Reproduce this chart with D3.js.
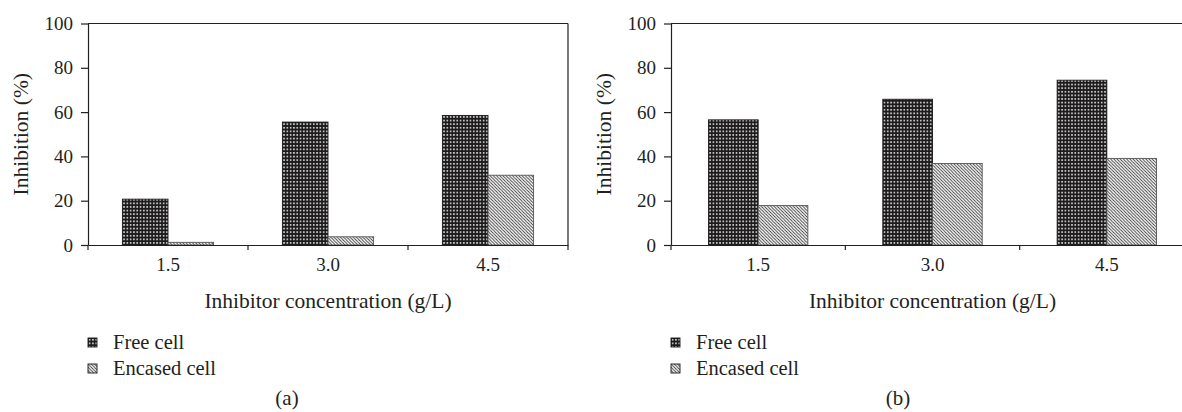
<!DOCTYPE html>
<html>
<head>
<meta charset="utf-8">
<script src="https://cdn.jsdelivr.net/npm/d3@7"></script>
<style>
  body { margin: 0; background: #fff; }
  svg text { font-family: "Liberation Serif", "Times New Roman", serif !important; fill: #231f20; }
  .axis path, .axis line { stroke: #231f20; stroke-width: 1.2; }
</style>
</head>
<body>
<script>
var categories = ["1.5", "3.0", "4.5"];
var seriesNames = ["Free cell", "Encased cell"];
var freeA = [20.7, 55.5, 58.5];
var encasedA = [1.2, 3.7, 31.5];
var freeB = [56.5, 65.8, 74.4];
var encasedB = [17.8, 36.8, 39.1];
var yTicks = [0, 20, 40, 60, 80, 100];

var width = 1182,
    height = 412;

var svg = d3.select("body").append("svg")
    .attr("width", width)
    .attr("height", height);

// fill patterns
var defs = svg.append("defs");

var dots = defs.append("pattern")
    .attr("id", "dots")
    .attr("patternUnits", "userSpaceOnUse")
    .attr("width", 3.3)
    .attr("height", 3.6);
dots.append("rect").attr("width", 3.3).attr("height", 3.6).attr("fill", "#1c1a1b");
dots.append("rect").attr("x", 0.8).attr("y", 1.1).attr("width", 1.7).attr("height", 1.3).attr("fill", "#fff");

var hatch = defs.append("pattern")
    .attr("id", "hatch")
    .attr("patternUnits", "userSpaceOnUse")
    .attr("width", 3.2)
    .attr("height", 3.2);
hatch.append("rect").attr("width", 3.2).attr("height", 3.2).attr("fill", "#fff");
hatch.append("path")
    .attr("d", "M-1,-1L4.2,4.2M-1,2.2L1,4.2M2.2,-1L4.2,1")
    .attr("stroke", "#2e2e2e")
    .attr("stroke-width", 0.85);

var fills = ["url(#dots)", "url(#hatch)"];

function drawPanel(opts) {
  var g = svg.append("g");

  var x = d3.scaleBand()
      .domain(categories)
      .range([opts.left, opts.right]);

  var groupW = x.bandwidth() * 0.57;

  var x1 = d3.scaleBand()
      .domain(seriesNames)
      .range([0, groupW]);

  var y = d3.scaleLinear()
      .domain([0, 100])
      .range([245, 23.5]);

  // frame: top and right lines
  g.append("line")
      .attr("x1", opts.left).attr("x2", opts.right)
      .attr("y1", y(100)).attr("y2", y(100))
      .attr("stroke", "#231f20").attr("stroke-width", 1.2);
  g.append("line")
      .attr("x1", opts.right).attr("x2", opts.right)
      .attr("y1", y(100)).attr("y2", y(0))
      .attr("stroke", "#231f20").attr("stroke-width", 1.2);

  // bars
  var rows = categories.map(function(c, i) {
    return [{cat: c, s: seriesNames[0], v: opts.free[i]},
            {cat: c, s: seriesNames[1], v: opts.encased[i]}];
  });

  g.selectAll(".grp")
      .data(rows)
    .enter().append("g")
      .attr("class", "grp")
      .attr("transform", function(d) {
        return "translate(" + (x(d[0].cat) + (x.bandwidth() - groupW) / 2) + ",0)";
      })
    .selectAll("rect")
      .data(function(d) { return d; })
    .enter().append("rect")
      .attr("x", function(d) { return x1(d.s); })
      .attr("y", function(d) { return y(d.v); })
      .attr("width", x1.bandwidth())
      .attr("height", function(d) { return y(0) - y(d.v); })
      .attr("fill", function(d, i) { return fills[i]; })
      .attr("stroke", function(d, i) { return i ? "#555" : "#1c1a1b"; })
      .attr("stroke-width", 0.9);

  // y axis
  g.append("g")
      .attr("class", "axis")
      .attr("transform", "translate(" + opts.left + ",0)")
      .call(d3.axisLeft(y).tickValues(yTicks).tickSize(7).tickSizeOuter(0).tickPadding(8))
      .attr("font-family", "Liberation Serif")
      .attr("font-size", 19);

  // x axis: labels at band centres, ticks at band edges
  var xa = g.append("g")
      .attr("class", "axis")
      .attr("transform", "translate(0," + y(0) + ")")
      .call(d3.axisBottom(x).tickSize(0).tickSizeOuter(0).tickPadding(13))
      .attr("font-family", "Liberation Serif")
      .attr("font-size", 19);

  var edges = categories.map(function(c) { return x(c); }).concat([opts.right]);
  xa.selectAll(".edge")
      .data(edges)
    .enter().append("line")
      .attr("class", "edge")
      .attr("x1", function(d) { return d; })
      .attr("x2", function(d) { return d; })
      .attr("y1", 0).attr("y2", 5);

  // axis titles
  g.append("text")
      .attr("transform", "translate(" + (opts.left - 60) + "," + ((y(0) + y(100)) / 2) + ") rotate(-90)")
      .attr("text-anchor", "middle")
      .attr("font-size", 21.5)
      .text("Inhibition (%)");

  g.append("text")
      .attr("x", (opts.left + opts.right) / 2)
      .attr("y", 308)
      .attr("text-anchor", "middle")
      .attr("font-size", 21.5)
      .text("Inhibitor concentration (g/L)");

  // legend
  var leg = g.selectAll(".leg")
      .data(seriesNames)
    .enter().append("g")
      .attr("class", "leg")
      .attr("transform", function(d, i) { return "translate(" + opts.left + "," + (338 + i * 26) + ")"; });

  leg.append("rect")
      .attr("width", 9).attr("height", 9)
      .attr("fill", function(d, i) { return fills[i]; })
      .attr("stroke", "#1c1a1b").attr("stroke-width", 0.9);

  leg.append("text")
      .attr("x", 25)
      .attr("y", 11)
      .attr("font-size", 20.5)
      .text(function(d) { return d; });

  // panel letter
  g.append("text")
      .attr("x", opts.labelX)
      .attr("y", 405)
      .attr("text-anchor", "middle")
      .attr("font-size", 21)
      .text(opts.label);
}

drawPanel({left: 88, right: 568, free: freeA, encased: encasedA, label: "(a)", labelX: 287});
drawPanel({left: 671, right: 1194, free: freeB, encased: encasedB, label: "(b)", labelX: 898});
</script>
</body>
</html>
